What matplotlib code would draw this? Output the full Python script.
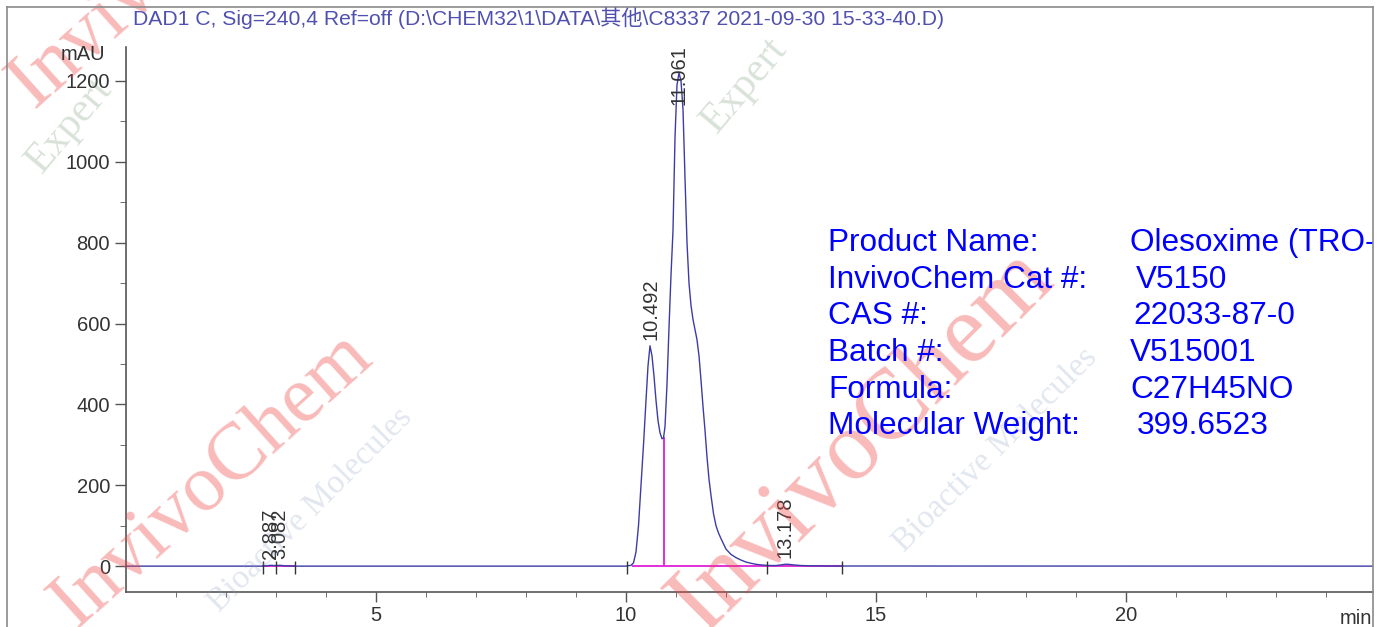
"""
HPLC chromatogram (DAD1 C, 240 nm) of Olesoxime, redrawn with matplotlib.
"""
import matplotlib
matplotlib.use("Agg")
import matplotlib.pyplot as plt
from matplotlib.lines import Line2D

# chromatogram trace: time (min), signal (mAU)
traceTime = [0.0, 2.70, 2.80, 2.887, 2.95, 3.00, 3.082, 3.20, 3.40, 10.00,
             10.10, 10.15, 10.20, 10.25, 10.30, 10.35, 10.40, 10.44, 10.48, 10.52,
             10.56, 10.60, 10.64, 10.68, 10.72, 10.75, 10.78, 10.82, 10.86, 10.90,
             10.94, 10.98, 11.02, 11.06, 11.10, 11.14, 11.18, 11.22, 11.26, 11.30,
             11.34, 11.38, 11.42, 11.46, 11.50, 11.54, 11.58, 11.62, 11.66, 11.70,
             11.75, 11.80, 11.85, 11.90, 11.95, 12.00, 12.10, 12.20, 12.30, 12.40,
             12.50, 12.60, 12.70, 12.80, 12.90, 13.00, 13.10, 13.178, 13.25, 13.35,
             13.50, 13.70, 14.00, 24.94]
traceSignal = [0.0, 0.0, 0.5, 2.0, 1.5, 1.5, 2.0, 0.5, 0.0, 0.0,
               2.0, 8.0, 35.0, 100.0, 200.0, 300.0, 410.0, 495.0, 545.0, 520.0,
               470.0, 410.0, 360.0, 330.0, 315.0, 317.0, 345.0, 450.0, 590.0, 720.0,
               830.0, 1060.0, 1190.0, 1220.0, 1200.0, 1130.0, 960.0, 800.0, 700.0, 645.0,
               610.0, 585.0, 560.0, 520.0, 460.0, 395.0, 336.0, 270.0, 215.0, 175.0,
               130.0, 100.0, 82.0, 68.0, 55.0, 42.0, 29.0, 21.0, 15.0, 10.0,
               7.0, 4.5, 3.0, 2.0, 1.5, 1.5, 3.0, 4.5, 4.5, 3.0,
               1.5, 0.8, 0.3, 0.0]

# integrated peaks
peakTimes = [2.887, 3.082, 10.492, 11.061, 13.178]
peakHeights = [2.0, 2.0, 545.0, 1220.0, 4.5]
peakLabels = ["2.887", "3.082", "10.492", "11.061", "13.178"]

# integration baselines and events
baselineSegments = [(2.74, 3.38), (10.14, 14.32)]
dropTime = 10.75
dropHeight = 317.0
eventTimes = [2.74, 3.0, 3.38, 10.02, 12.82, 14.32]

# sample information block
infoKeys = ["Product Name:", "InvivoChem Cat #:", "CAS #:", "Batch #:", "Formula:",
            "Molecular Weight:"]
infoValues = ["Olesoxime (TRO-19622)", "V5150", "22033-87-0", "V515001", "C27H45NO",
              "399.6523"]

TITLE = "DAD1 C, Sig=240,4 Ref=off (D:\\CHEM32\\1\\DATA\\其他\\C8337 2021-09-30 15-33-40.D)"

W, H = 1383, 627
plt.rcParams["font.family"] = ["Liberation Sans", "Noto Sans CJK SC", "DejaVu Sans"]

fig = plt.figure(figsize=(W / 100, H / 100), dpi=100)
fig.patch.set_facecolor("white")


def FigX(px):
    return px / W


def FigY(py):
    return 1 - py / H


# faint watermarks behind everything
wm = [
    ("InvivoChem", 212, 480, 42, 58, "#f04848", 0.38),
    ("InvivoChem", 862, 440, 45, 72, "#f04848", 0.38),
    ("InvivoChem", 170, -40, 42, 58, "#f04848", 0.38),
    ("Bioactive Molecules", 310, 510, 45, 24, "#8aa0c0", 0.25),
    ("Bioactive Molecules", 995, 450, 45, 24, "#8aa0c0", 0.25),
    ("Expert", 70, 125, 50, 30, "#80a080", 0.30),
    ("Expert", 745, 85, 50, 30, "#80a080", 0.30),
]
for txt, x, y, rot, size, col, a in wm:
    fig.text(FigX(x), FigY(y), txt, rotation=rot, fontsize=size, color=col, alpha=a,
             family="Liberation Serif", ha="center", va="center",
             rotation_mode="anchor", zorder=0)

ax = fig.add_axes([FigX(126), FigY(592), FigX(1373) - FigX(126), FigY(47) - FigY(592)])
ax.patch.set_alpha(0)

ax.plot(traceTime, traceSignal, color="#3c3ca8", lw=1.0, zorder=3)
for t0, t1 in baselineSegments:
    ax.plot([t0, t1], [0, 0], color="#e030d8", lw=1.4, zorder=2)
ax.plot([dropTime, dropTime], [0, dropHeight], color="#e030d8", lw=1.4, zorder=2)
ax.vlines(eventTimes, -20, 12, color="#333333", lw=1.0, zorder=4)

for t, h, lbl in zip(peakTimes, peakHeights, peakLabels):
    base = min(h + 15, 1140)
    ax.text(t, base, lbl, rotation=90, ha="center", va="bottom", fontsize=14.5,
            color="#333333", zorder=5)

ax.set_xlim(0, 24.94)
ax.set_ylim(-64, 1284)
ax.set_xticks([5, 10, 15, 20])
ax.set_xticks(range(1, 25), minor=True)
ax.set_yticks(range(0, 1201, 200))
ax.set_yticks(range(0, 1201, 100), minor=True)
ax.tick_params(axis="both", which="major", labelsize=14.5, labelcolor="#333333",
               color="#555555", width=1.0)
ax.tick_params(axis="y", which="major", length=8, pad=3.5)
ax.tick_params(axis="y", which="minor", length=4, color="#555555")
ax.tick_params(axis="x", which="major", length=7, pad=3.0)
ax.tick_params(axis="x", which="minor", length=3.5, color="#555555")
for side in ("top", "right"):
    ax.spines[side].set_visible(False)
for side in ("left", "bottom"):
    ax.spines[side].set_color("#555555")
    ax.spines[side].set_linewidth(1.2)

fig.text(FigX(105), FigY(55), "mAU", ha="right", va="center", fontsize=14.5, color="#333333")
fig.text(FigX(1372), FigY(618), "min", ha="right", va="center", fontsize=14.5, color="#333333")
fig.text(FigX(133), FigY(18), TITLE, ha="left", va="center", fontsize=15.2, color="#5050b0")

rowY = [243, 280, 316, 353, 390, 426]
valX = [1130, 1136, 1133, 1130, 1130, 1137]
for key, val, y, vx in zip(infoKeys, infoValues, rowY, valX):
    fig.text(FigX(828), FigY(y), key, ha="left", va="center", fontsize=22.7, color="#0000ff")
    ax.text(FigX(vx), FigY(y), val, ha="left", va="center", fontsize=22.7, color="#0000ff",
            transform=fig.transFigure, clip_on=True)

# page frame
frameColor = "#8a8a8a"
fig.add_artist(Line2D([FigX(7), FigX(7)], [FigY(7), 0], color=frameColor, lw=1.2))
fig.add_artist(Line2D([FigX(7), FigX(1373)], [FigY(7), FigY(7)], color=frameColor, lw=1.2))
fig.add_artist(Line2D([FigX(1373), FigX(1373)], [FigY(7), 0], color=frameColor, lw=1.2))

fig.savefig("out.png", dpi=100)
